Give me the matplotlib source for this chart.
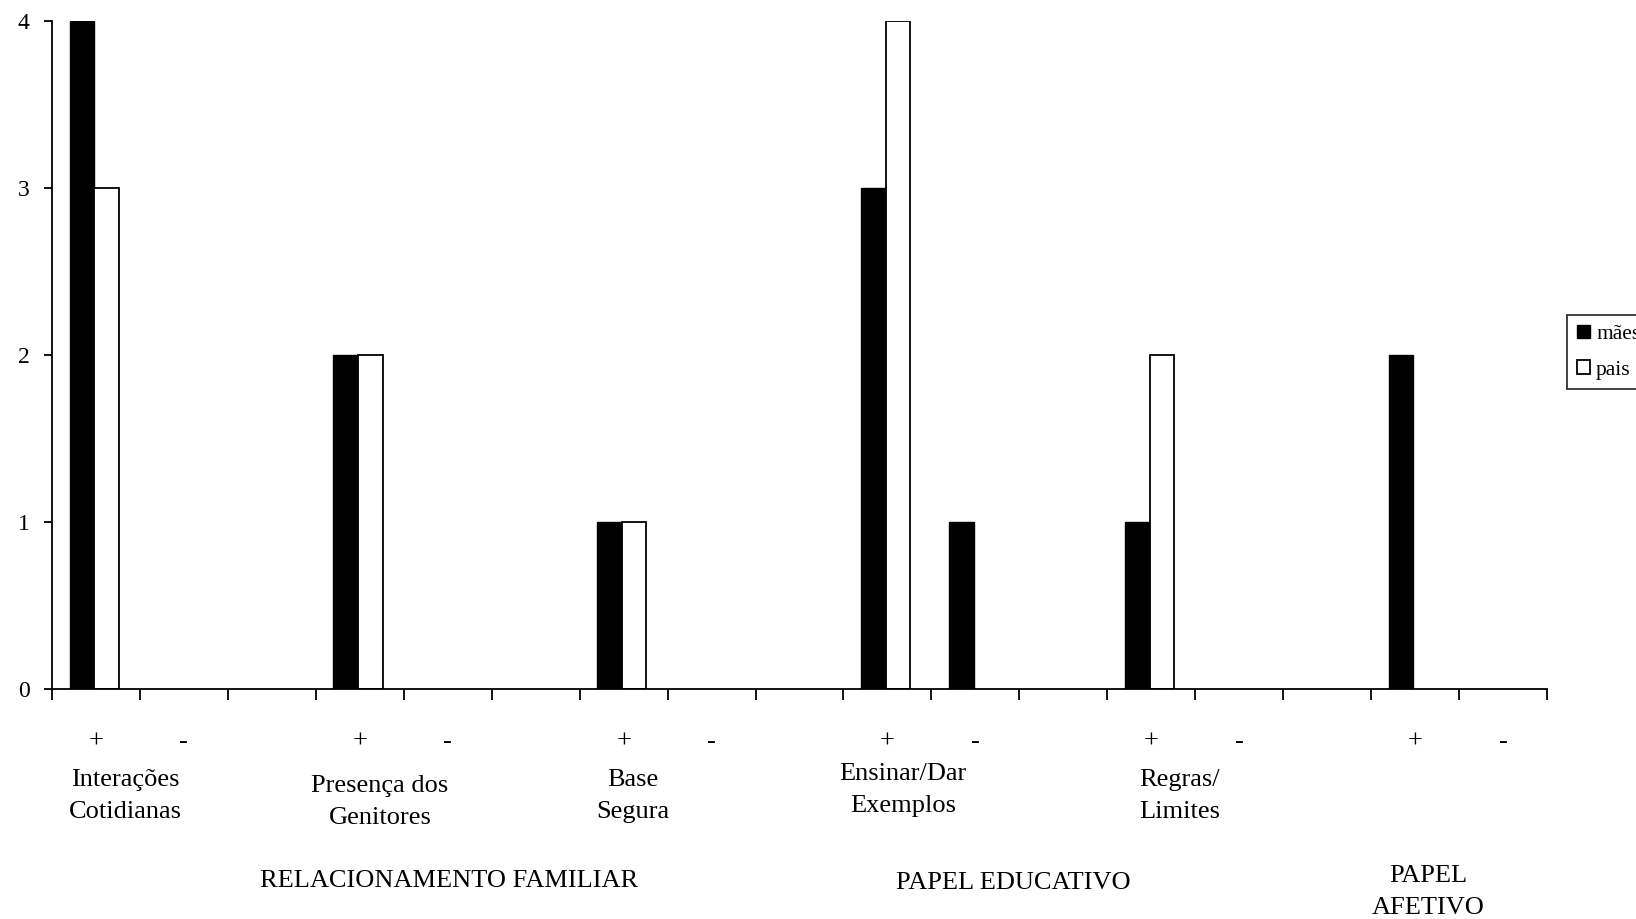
import matplotlib.pyplot as plt
import matplotlib.transforms as mtransforms
import numpy as np

plt.rcParams['font.family'] = ['Liberation Serif', 'DejaVu Serif']

# 17 slots: (+, -, blank) per theme, last theme without blank
signs = ["+", "-", "", "+", "-", "", "+", "-", "", "+", "-", "", "+", "-", "", "+", "-"]
maes = [4, 0, 0, 2, 0, 0, 1, 0, 0, 3, 1, 0, 1, 0, 0, 2, 0]
pais = [3, 0, 0, 2, 0, 0, 1, 0, 0, 4, 0, 0, 2, 0, 0, 0, 0]

temas = ["Interações\nCotidianas", "Presença dos\nGenitores", "Base\nSegura",
         "Ensinar/Dar\nExemplos", "Regras/\nLimites"]
grupos = ["RELACIONAMENTO FAMILIAR", "PAPEL EDUCATIVO", "PAPEL\nAFETIVO"]

W, H = 1636, 919
fig = plt.figure(figsize=(W / 100, H / 100), dpi=100)
ax = fig.add_axes([52 / W, 1 - 689 / H, (1547 - 52) / W, (689 - 21) / H])

x = np.arange(len(signs))
w = 0.28
off = 0.02
for i in range(len(x)):
    if maes[i] > 0:
        ax.bar(x[i] - w / 2 - off, maes[i], w, color="black", edgecolor="black", linewidth=1)
    if pais[i] > 0:
        ax.bar(x[i] + w / 2 - off, pais[i], w, color="white", edgecolor="black", linewidth=1.3)

ax.set_xlim(-0.5, len(x) - 0.5)
ax.set_ylim(0, 4)
ax.set_yticks([0, 1, 2, 3, 4])
ax.set_xticks(np.arange(-0.5, len(x), 1.0))
ax.set_xticklabels([])
ax.tick_params(axis="y", length=6, width=1.3, pad=10, labelsize=17)
ax.tick_params(axis="x", length=8, width=1.3)
ax.spines["top"].set_visible(False)
ax.spines["right"].set_visible(False)
ax.spines["left"].set_linewidth(1.3)
ax.spines["bottom"].set_linewidth(1.3)
ax.spines["bottom"].set_clip_on(False)

tr = mtransforms.blended_transform_factory(ax.transData, fig.transFigure)
fy = lambda py: 1 - py / H

for xi, s in zip(x, signs):
    if s:
        ax.text(xi, fy(742), s, transform=tr, ha="center", va="center", fontsize=19)

tema_x = [0.33, 3.23, 6.11, 9.18, 12.32]
tema_y = [796, 802, 796, 790, 796]
for t, tx, ty in zip(temas, tema_x, tema_y):
    ax.text(tx, fy(ty), t, transform=tr, ha="center", va="center", fontsize=19,
            linespacing=1.55)

grupo_x = [4.01, 10.43, 15.15]
grupo_y = [881, 883, 892]
for g, gx, gy in zip(grupos, grupo_x, grupo_y):
    ax.text(gx, fy(gy), g, transform=tr, ha="center", va="center", fontsize=19,
            linespacing=1.55)

handles = [plt.Rectangle((0, 0), 1, 1, facecolor="black", edgecolor="black"),
           plt.Rectangle((0, 0), 1, 1, facecolor="white", edgecolor="black", linewidth=1.3)]
leg = fig.legend(handles, ["mães", "pais"], loc="upper left",
                 bbox_to_anchor=(1567 / W, 1 - 315 / H), bbox_transform=fig.transFigure,
                 fontsize=15.5, frameon=True, fancybox=False, borderaxespad=0,
                 handlelength=0.6, handleheight=0.6, handletextpad=0.3,
                 labelspacing=0.75, borderpad=0.45)
leg.get_frame().set_edgecolor("black")
leg.get_frame().set_linewidth(1.3)

fig.savefig("out.png", dpi=100)
